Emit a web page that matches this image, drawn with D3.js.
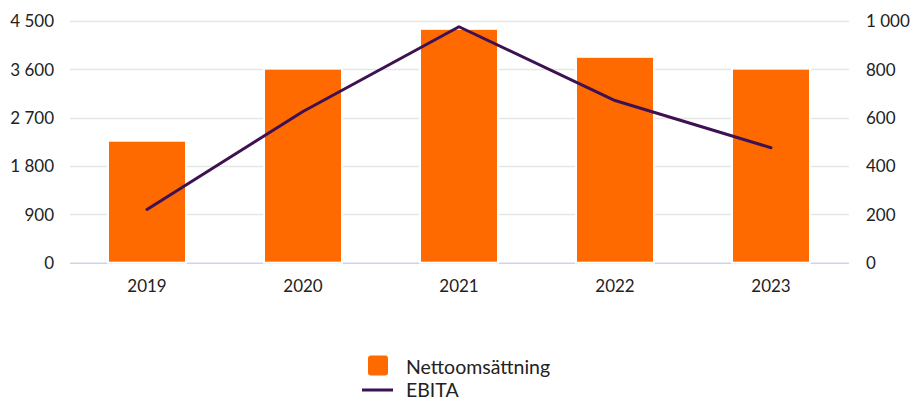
<!DOCTYPE html>
<html><head><meta charset="utf-8">
<script src="https://cdn.jsdelivr.net/npm/d3@7"></script>
<style>body{margin:0;background:#fff}svg{display:block;font-family:Lato,"Noto Sans",sans-serif}</style>
</head><body><svg id="c" width="911" height="401"></svg>
<script>
const categories = ["2019","2020","2021","2022","2023"];
const nettoomsattning = [2250, 3590, 4330, 3810, 3590];
const ebita = [220, 625, 975, 670, 475];
const leftTicks = [0, 900, 1800, 2700, 3600, 4500];
const rightTicks = [0, 200, 400, 600, 800, 1000];
const barColor = "#ff6a00", lineColor = "#3d1152";

const svg = d3.select("#c");
const L = 69, R = 849, T = 20.7, B = 262.7;
const x = d3.scaleBand().domain(categories).range([L, R]).paddingInner(0.513).paddingOuter(0.2565);
const yL = d3.scaleLinear().domain([0, 4500]).range([B, T]);
const yR = d3.scaleLinear().domain([0, 1000]).range([B, T]);
const fmt = v => d3.format(",")(v).replace(/,/g, "\u00a0");

// gridlines
svg.append("g").selectAll("line").data(leftTicks.filter(d => d > 0)).join("line")
  .attr("x1", 70).attr("x2", R).attr("y1", d => Math.round(yL(d)) + 0.5).attr("y2", d => Math.round(yL(d)) + 0.5)
  .attr("stroke", "#e6e6e6").attr("stroke-width", 1.5);
svg.append("line").attr("x1", 70).attr("x2", R).attr("y1", B + 0.5).attr("y2", B + 0.5)
  .attr("stroke", "#ccd6eb").attr("stroke-width", 1.5);

// bars
svg.append("g").selectAll("rect").data(categories).join("rect")
  .attr("x", d => x(d) - 1).attr("width", x.bandwidth() + 2)
  .attr("y", (d, i) => yL(nettoomsattning[i]) - 1).attr("height", (d, i) => B - yL(nettoomsattning[i]) + 1)
  .attr("fill", barColor).attr("stroke", "#fff").attr("stroke-width", 2);

// line
const line = d3.line().x((d, i) => x(categories[i]) + x.bandwidth() / 2).y(d => yR(d));
svg.append("path").datum(ebita).attr("d", line).attr("fill", "none")
  .attr("stroke", lineColor).attr("stroke-width", 3).attr("stroke-linejoin", "round").attr("stroke-linecap", "round");

// axes labels
const axL = svg.append("g").attr("transform", `translate(${L - 15},0)`)
  .call(d3.axisLeft(yL).tickValues(leftTicks).tickFormat(fmt).tickSize(0).tickPadding(0));
const axR = svg.append("g").attr("transform", `translate(${R + 17},0)`)
  .call(d3.axisRight(yR).tickValues(rightTicks).tickFormat(fmt).tickSize(0).tickPadding(0));
const axB = svg.append("g").attr("transform", `translate(0,${B + 29.5})`)
  .call(d3.axisBottom(x).tickSize(0).tickPadding(0));
[axL, axR, axB].forEach(a => {
  a.select(".domain").remove();
  a.selectAll("text").attr("font-size", 17).attr("fill", "#222").attr("font-family", "Lato, sans-serif");
});
axL.selectAll("text").attr("dy", "0.35em");
axR.selectAll("text").attr("dy", "0.35em");
axB.selectAll("text").attr("dy", "0");

// legend
const lg = svg.append("g");
lg.append("rect").attr("x", 368).attr("y", 355.5).attr("width", 20).attr("height", 20).attr("rx", 3).attr("fill", barColor);
lg.append("text").attr("x", 406).attr("y", 373.5).text("Nettoomsättning").attr("font-size", 19.5).attr("fill", "#222");
lg.append("line").attr("x1", 362).attr("x2", 393).attr("y1", 390).attr("y2", 390).attr("stroke", lineColor).attr("stroke-width", 3);
lg.append("text").attr("x", 406).attr("y", 396.5).text("EBITA").attr("font-size", 19.5).attr("fill", "#222");
</script></body></html>
